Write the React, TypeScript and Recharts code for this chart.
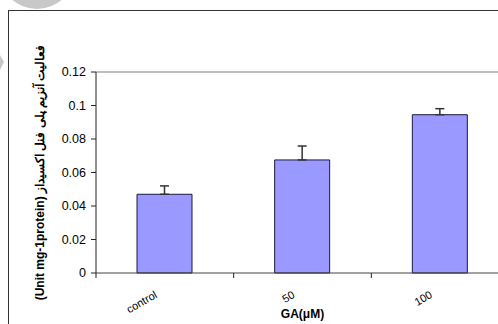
import { BarChart, Bar, XAxis, YAxis, ErrorBar, ReferenceLine, Label } from "recharts";

const categories = ["control", "50", "100"];
const activity = [0.047, 0.0675, 0.0945];
const errors = [0.005, 0.0083, 0.0036];
const yTicks = [0, 0.02, 0.04, 0.06, 0.08, 0.1, 0.12];

const yTitle = "(Unit mg-1protein) فعالیت آنزیم پلی فنل اکسیداز";
const xTitle = "GA(μM)";

const data = categories.map((name, i) => ({
  name,
  value: activity[i],
  err: [0, errors[i]],
}));

const FONT = "'Liberation Sans', Arial, sans-serif";

// category tick: label rotated, tick marks sit on the category boundaries
const CategoryTick = (props: any) => {
  const { x, y, payload, index } = props;
  const half = payload?.offset ?? 0;
  return (
    <g>
      {index === 0 && (
        <line x1={x - half} x2={x - half} y1={y - 5} y2={y} stroke="#222" />
      )}
      <line x1={x + half} x2={x + half} y1={y - 5} y2={y} stroke="#222" />
      <text
        transform={`translate(${x - 7}, ${y + 19}) rotate(-30)`}
        textAnchor="end"
        fontSize={11}
        fontFamily={FONT}
        fill="#000"
      >
        {payload.value}
      </text>
    </g>
  );
};

const YTitle = (props: any) => {
  const { viewBox } = props;
  const cx = viewBox.x + 40;
  const cy = viewBox.y + viewBox.height / 2;
  return (
    <text
      x={cx}
      y={cy}
      transform={`rotate(-90 ${cx} ${cy})`}
      textAnchor="middle"
      dominantBaseline="central"
      fontSize={12}
      fontWeight="bold"
      fontFamily={FONT}
      fill="#000"
    >
      {yTitle}
    </text>
  );
};

const XTitle = (props: any) => {
  const { viewBox } = props;
  return (
    <text
      x={viewBox.x + viewBox.width / 2}
      y={viewBox.y + 45}
      textAnchor="middle"
      fontSize={12}
      fontWeight="bold"
      fontFamily={FONT}
      fill="#000"
    >
      {xTitle}
    </text>
  );
};

export default function App() {
  return (
    <div
      style={{
        position: "fixed",
        left: 0,
        top: 0,
        width: 498,
        height: 324,
        overflow: "hidden",
        background: "#fff",
      }}
    >
      {/* page decoration behind the chart */}
      <svg width={498} height={324} style={{ position: "absolute", left: 0, top: 0 }}>
        <circle cx={37} cy={-29} r={38} fill="#c8c8c8" />
        <polygon points="0,55 4,62 0,70" fill="#c8c8c8" />
      </svg>

      {/* outer chart frame */}
      <div
        style={{
          position: "absolute",
          left: 8,
          top: 10,
          width: 520,
          height: 340,
          borderLeft: "1px solid #333",
          borderTop: "1px solid #333",
        }}
      />

      <div style={{ position: "absolute", left: 0, top: 0, width: 520 }}>
        <BarChart
          width={520}
          height={330}
          data={data}
          margin={{ top: 72, right: 11, left: 0, bottom: 0 }}
        >
          <ReferenceLine y={0.12} stroke="#aaa" strokeWidth={1.5} />
          <XAxis
            dataKey="name"
            height={57}
            tickLine={false}
            tickSize={5}
            tickMargin={0}
            axisLine={{ stroke: "#444" }}
            tick={<CategoryTick />}
            interval={0}
          >
            <Label content={<XTitle />} />
          </XAxis>
          <YAxis
            width={96}
            domain={[0, 0.12]}
            ticks={yTicks}
            tickSize={5}
            tickMargin={5}
            axisLine={{ stroke: "#222" }}
            tickLine={{ stroke: "#222" }}
            tick={{ fill: "#000", fontSize: 12.5, fontFamily: FONT }}
          >
            <Label content={<YTitle />} />
          </YAxis>
          <Bar
            dataKey="value"
            fill="#9999ff"
            stroke="#1a1a40"
            strokeWidth={1}
            barSize={55}
            isAnimationActive={false}
          >
            <ErrorBar
              dataKey="err"
              direction="y"
              width={4.5}
              stroke="#333"
              strokeWidth={1.5}
              isAnimationActive={false}
            />
          </Bar>
        </BarChart>
      </div>
    </div>
  );
}
